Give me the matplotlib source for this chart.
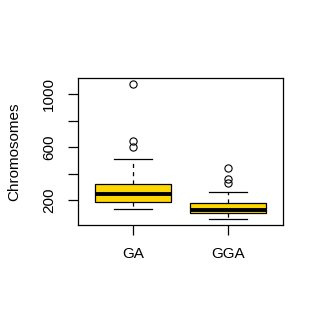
import matplotlib
matplotlib.use("Agg")
import matplotlib.pyplot as plt

plt.rcParams['font.family'] = ['Liberation Sans', 'DejaVu Sans']

# values (boxplot summary stats)
groups = ["GA", "GGA"]
whisk_lo = [132, 57]
q1 = [185, 105]
medians = [247, 125]
q3 = [325, 182]
whisk_hi = [513, 260]
outliers = [[603, 646, 1072], [328, 360, 441]]

stats = []
for i in range(len(groups)):
    stats.append(dict(label=groups[i], whislo=whisk_lo[i], q1=q1[i], med=medians[i],
                      q3=q3[i], whishi=whisk_hi[i], fliers=outliers[i]))

fig = plt.figure(figsize=(3.24, 3.23), dpi=100)
ax = fig.add_axes([0.2407, 0.3034, 0.6328, 0.4551])

lw = 0.9
ax.bxp(stats, positions=[1, 2], widths=0.8, patch_artist=True,
       boxprops=dict(facecolor="#FFD700", edgecolor="black", linewidth=lw),
       medianprops=dict(color="black", linewidth=2.8, solid_capstyle="butt"),
       whiskerprops=dict(color="black", linewidth=lw, linestyle=(0, (3.3, 3.3))),
       capprops=dict(color="black", linewidth=lw),
       capwidths=0.4,
       flierprops=dict(marker="o", markerfacecolor="none", markeredgecolor="black",
                       markersize=5.2, markeredgewidth=0.8))

ax.set_xlim(0.42, 2.58)
ax.set_ylim(14, 1120)
ax.set_yticks([200, 400, 600, 800, 1000])
ax.set_yticklabels(["200", "", "600", "", "1000"], rotation=90, va="center")
ax.set_xticks([1, 2])
ax.set_xticklabels(groups)
ax.tick_params(axis="both", length=7, width=lw, labelsize=11, pad=9)
ax.set_ylabel("Chromosomes", fontsize=11, labelpad=15)
for s in ax.spines.values():
    s.set_linewidth(lw)

fig.savefig("out.png", dpi=100)
